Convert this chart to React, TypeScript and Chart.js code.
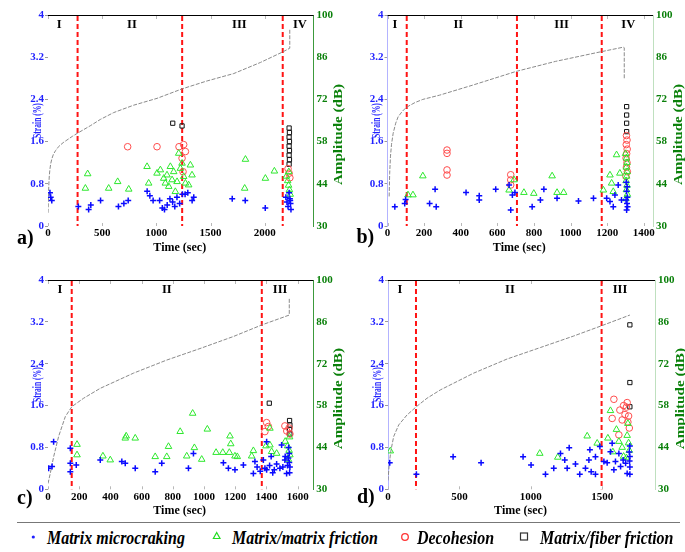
import React, { useEffect, useRef } from 'react';
import { Chart, registerables } from 'chart.js';

Chart.register(...registerables);

type Pt = [number, number];

const FONT = '"Liberation Serif", "Times New Roman", serif';

// ---------- Panel a ----------
const A_TIME = [0, 3, 5, 8, 12, 18, 25, 35, 50, 70, 100, 140, 175, 225, 273, 390, 483, 606, 790, 1006, 1238, 1468, 1714, 1960, 2166, 2231, 2231];
const A_STRAIN = [0.25, 0.45, 0.62, 0.8, 0.95, 1.08, 1.18, 1.27, 1.36, 1.43, 1.51, 1.58, 1.63, 1.7, 1.76, 1.9, 2.02, 2.15, 2.29, 2.42, 2.6, 2.75, 2.89, 3.1, 3.3, 3.37, 3.72];
const A_MICRO: Pt[] = [[18, 41.0], [25, 39.5], [35, 38.5], [280, 36.5], [375, 35.5], [395, 37.0], [485, 38.5], [650, 36.5], [700, 37.5], [740, 38.5], [915, 41.5], [940, 40.0], [970, 38.5], [1030, 38.5], [1055, 36.0], [1075, 35.5], [1100, 37.0], [1125, 39.0], [1150, 38.0], [1170, 36.5], [1190, 39.5], [1215, 37.5], [1240, 40.5], [1265, 40.5], [1290, 41.0], [1330, 38.5], [1345, 39.5], [1700, 39.0], [1820, 38.5], [2005, 36.0], [2195, 39.5], [2205, 38.0], [2215, 36.5], [2225, 41.0], [2232, 39.0], [2238, 37.5], [2242, 35.5], [2235, 38.5]];
const A_MM: Pt[] = [[345, 42.5], [366, 47.3], [560, 42.5], [643, 44.7], [745, 42.2], [914, 49.7], [929, 44.2], [1006, 47.5], [1037, 48.6], [1068, 45.8], [1083, 44.2], [1098, 46.9], [1114, 43.1], [1129, 49.7], [1145, 45.3], [1160, 48.0], [1175, 41.4], [1191, 44.7], [1206, 54.1], [1222, 49.1], [1237, 50.8], [1252, 46.4], [1268, 44.2], [1298, 43.6], [1314, 50.2], [1329, 46.9], [1815, 42.5], [1822, 52.1], [2006, 45.8], [2089, 48.2], [2200, 46.5], [2212, 45.0], [2220, 43.5], [2228, 42.0], [2235, 40.5], [2222, 48.0]];
const A_DEC: Pt[] = [[735, 56.3], [1006, 56.3], [1209, 56.3], [1252, 57.0], [1237, 52.5], [1246, 48.0], [1268, 54.7], [2215, 49.0], [2225, 47.5], [2232, 46.0]];
const A_MF: Pt[] = [[1151, 64.1], [1237, 63.2], [2225, 62.5], [2228, 61.0], [2225, 59.5], [2228, 58.0], [2225, 56.5], [2228, 55.0], [2225, 53.5], [2228, 52.0], [2225, 50.5]];
const A_STAGES = [273, 1238, 2166];
const A_ROMAN_T = [104, 774, 1766, 2325];
const A_XTICKS = [0, 500, 1000, 1500, 2000];

// ---------- Panel b ----------
const B_TIME = [9, 12, 16, 22, 31, 45, 58, 80, 103, 150, 193, 284, 465, 702, 917, 1161, 1288, 1293, 1293];
const B_STRAIN = [0.56, 1.0, 1.31, 1.55, 1.76, 1.95, 2.07, 2.17, 2.25, 2.34, 2.4, 2.48, 2.67, 2.93, 3.12, 3.3, 3.39, 3.38, 2.8];
const B_MICRO: Pt[] = [[40, 36.4], [94, 37.5], [99, 38.8], [230, 37.5], [266, 36.4], [260, 42.2], [429, 41.1], [501, 40.0], [501, 38.6], [591, 42.2], [664, 43.6], [673, 35.3], [682, 40.3], [696, 41.1], [790, 36.4], [835, 38.6], [854, 42.2], [926, 39.2], [1043, 38.3], [1125, 39.2], [1197, 39.2], [1215, 38.1], [1233, 36.4], [1242, 40.3], [1260, 43.6], [1278, 38.6], [1306, 35.3], [1308, 37.5], [1310, 39.5], [1306, 41.5], [1309, 43.0], [1304, 44.5], [1311, 36.4], [1303, 38.6]];
const B_MM: Pt[] = [[112, 40.3], [139, 40.3], [193, 46.6], [664, 41.9], [691, 45.3], [745, 41.1], [799, 40.8], [899, 46.6], [926, 41.1], [962, 41.1], [1179, 41.9], [1215, 46.9], [1224, 44.2], [1233, 41.4], [1251, 53.6], [1269, 47.5], [1300, 54.0], [1305, 52.5], [1308, 51.0], [1304, 49.5], [1309, 48.0], [1306, 46.5], [1303, 45.0], [1308, 43.5], [1305, 42.0], [1310, 40.5], [1302, 39.0]];
const B_DEC: Pt[] = [[325, 55.2], [325, 54.1], [325, 48.6], [325, 46.9], [673, 47.0], [673, 45.3], [673, 43.6], [1305, 60.0], [1308, 58.5], [1304, 57.0], [1309, 55.5], [1306, 54.0], [1303, 52.5], [1308, 51.0], [1305, 49.5], [1310, 48.0], [1302, 46.5]];
const B_MF: Pt[] = [[1306, 69.6], [1306, 66.8], [1306, 64.1], [1306, 61.3]];
const B_STAGES = [105, 707, 1170];
const B_ROMAN_T = [41, 387, 951, 1315];
const B_XTICKS = [0, 200, 400, 600, 800, 1000, 1200, 1400];

// ---------- Panel c ----------
const C_TIME = [0, 15, 36, 68, 111, 153, 228, 335, 548, 761, 974, 1188, 1369, 1546, 1546];
const C_STRAIN = [0.11, 0.31, 0.62, 1.01, 1.39, 1.58, 1.74, 1.93, 2.22, 2.47, 2.69, 2.92, 3.14, 3.33, 3.65];
const C_MICRO: Pt[] = [[4, 37.0], [26, 37.6], [36, 45.9], [143, 38.7], [143, 35.9], [143, 43.7], [181, 38.1], [335, 39.8], [473, 39.3], [495, 38.7], [559, 37.0], [687, 35.9], [729, 38.7], [900, 37.0], [932, 42.0], [1124, 38.9], [1156, 37.0], [1198, 36.5], [1252, 38.1], [1316, 35.3], [1326, 39.3], [1340, 37.5], [1360, 36.0], [1380, 39.8], [1390, 37.0], [1401, 45.9], [1401, 36.5], [1420, 38.0], [1430, 41.0], [1440, 35.5], [1450, 36.5], [1465, 38.5], [1486, 37.0], [1497, 44.8], [1505, 37.5], [1518, 39.8], [1520, 41.0], [1529, 35.3], [1535, 38.0], [1546, 42.0], [1546, 39.0], [1548, 35.5], [1542, 44.0], [1550, 37.5], [1540, 40.5]];
const C_MM: Pt[] = [[186, 45.0], [186, 41.5], [352, 41.1], [399, 39.8], [495, 47.1], [501, 47.8], [559, 47.1], [687, 40.9], [761, 40.9], [772, 44.3], [847, 49.3], [889, 41.1], [927, 55.4], [938, 43.9], [985, 40.0], [1021, 50.1], [1077, 42.3], [1120, 42.3], [1166, 47.8], [1171, 45.2], [1162, 42.3], [1198, 41.1], [1213, 40.9], [1305, 41.1], [1316, 42.9], [1397, 44.5], [1422, 50.4], [1422, 44.8], [1433, 42.6], [1465, 42.0], [1520, 46.0], [1535, 44.5], [1545, 43.0], [1550, 41.5], [1540, 40.0], [1548, 47.5]];
const C_DEC: Pt[] = [[1401, 52.3], [1390, 49.3], [1412, 51.0], [1518, 51.2], [1530, 49.5], [1545, 50.5], [1550, 48.5]];
const C_MF: Pt[] = [[1418, 58.8], [1548, 53.0], [1550, 51.5], [1548, 50.0], [1550, 48.5]];
const C_STAGES = [152, 1370];
const C_ROMAN_T = [77, 761, 1487];
const C_XTICKS = [0, 200, 400, 600, 800, 1000, 1200, 1400, 1600];

// ---------- Panel d ----------
const D_TIME = [0, 9, 21, 40, 75, 133, 199, 273, 367, 600, 834, 1068, 1301, 1500, 1694];
const D_STRAIN = [0.17, 0.5, 0.75, 1.01, 1.23, 1.42, 1.58, 1.74, 1.9, 2.22, 2.49, 2.71, 2.93, 3.13, 3.33];
const D_MICRO: Pt[] = [[12, 38.9], [199, 35.0], [456, 40.9], [652, 38.9], [946, 40.9], [1002, 38.1], [1103, 35.0], [1161, 37.0], [1208, 42.0], [1238, 39.8], [1255, 37.0], [1269, 43.9], [1313, 38.5], [1343, 35.0], [1383, 37.0], [1407, 39.8], [1414, 43.2], [1423, 35.9], [1453, 35.0], [1453, 40.9], [1484, 44.3], [1512, 39.3], [1535, 38.9], [1558, 42.6], [1570, 45.4], [1582, 36.5], [1593, 39.3], [1617, 42.0], [1629, 37.6], [1647, 39.8], [1664, 38.7], [1675, 35.3], [1694, 44.5], [1694, 41.0], [1694, 37.5], [1694, 35.0], [1690, 42.5], [1692, 39.5]];
const D_MM: Pt[] = [[16, 42.8], [1063, 42.0], [1189, 40.7], [1395, 47.8], [1465, 45.4], [1540, 47.1], [1558, 56.3], [1575, 42.5], [1600, 50.0], [1617, 46.0], [1640, 44.0], [1650, 41.0], [1675, 48.0], [1685, 45.5], [1690, 43.0], [1680, 52.0], [1670, 40.5]];
const D_DEC: Pt[] = [[1582, 60.1], [1570, 53.7], [1624, 56.5], [1640, 53.2], [1617, 48.2], [1650, 58.0], [1660, 55.0], [1670, 57.5], [1680, 52.5], [1690, 50.5], [1685, 54.5], [1675, 59.0]];
const D_MF: Pt[] = [[1694, 85.0], [1694, 65.7], [1694, 57.6]];
const D_STAGES = [196, 1496];
const D_ROMAN_T = [84, 854, 1625];
const D_XTICKS = [0, 500, 1000, 1500];

const ROMAN4 = ['I', 'II', 'III', 'IV'];
const ROMAN3 = ['I', 'II', 'III'];

const STRAIN_TICKS = [0, 0.8, 1.6, 2.4, 3.2, 4];
const AMP_TICKS = [30, 44, 58, 72, 86, 100];

const LEGEND_LABELS = ['Matrix microcraking', 'Matrix/matrix friction', 'Decohesion', 'Matrix/fiber friction'];

const PANELS = [
  { key: 'a', label: 'a)', left: 0, top: 0, w: 345, h: 258, area: { l: 48, r: 313.5, t: 15, b: 226 }, xMax: 2450, xTicks: A_XTICKS,
    time: A_TIME, strain: A_STRAIN, micro: A_MICRO, mm: A_MM, dec: A_DEC, mf: A_MF, stages: A_STAGES, romanT: A_ROMAN_T, roman: ROMAN4, pale: false, labelDy: 13 },
  { key: 'b', label: 'b)', left: 340, top: 0, w: 345, h: 258, area: { l: 47.5, r: 313, t: 15, b: 226 }, xMax: 1450, xTicks: B_XTICKS,
    time: B_TIME, strain: B_STRAIN, micro: B_MICRO, mm: B_MM, dec: B_DEC, mf: B_MF, stages: B_STAGES, romanT: B_ROMAN_T, roman: ROMAN4, pale: true, labelDy: 12 },
  { key: 'c', label: 'c)', left: 0, top: 262, w: 345, h: 258, area: { l: 48, r: 313.3, t: 18, b: 227.3 }, xMax: 1700, xTicks: C_XTICKS,
    time: C_TIME, strain: C_STRAIN, micro: C_MICRO, mm: C_MM, dec: C_DEC, mf: C_MF, stages: C_STAGES, romanT: C_ROMAN_T, roman: ROMAN3, pale: false, labelDy: 10 },
  { key: 'd', label: 'd)', left: 340, top: 262, w: 345, h: 258, area: { l: 48, r: 315, t: 18, b: 227.3 }, xMax: 1870, xTicks: D_XTICKS,
    time: D_TIME, strain: D_STRAIN, micro: D_MICRO, mm: D_MM, dec: D_DEC, mf: D_MF, stages: D_STAGES, romanT: D_ROMAN_T, roman: ROMAN3, pale: true, labelDy: 9 },
];

const BLUE = '#1f1fff';
const GREEN_TXT = '#0a800a';

function makeDecor(p: any) {
  return {
    id: 'decor_' + p.key,
    beforeDatasetsDraw(chart: any) {
      const { ctx, chartArea: a } = chart;
      const xs = chart.scales.x;
      ctx.save();
      ctx.lineWidth = 1;
      ctx.strokeStyle = '#000';
      ctx.beginPath();
      ctx.moveTo(a.left, a.top + 0.5);
      ctx.lineTo(a.right, a.top + 0.5);
      ctx.stroke();
      ctx.strokeStyle = '#b8b8b8';
      ctx.beginPath();
      xs.ticks.forEach((t: any) => {
        const px = Math.round(xs.getPixelForValue(t.value)) + 0.5;
        ctx.moveTo(px, a.top + 1);
        ctx.lineTo(px, a.top + 4);
        ctx.moveTo(px, a.bottom);
        ctx.lineTo(px, a.bottom - 3);
      });
      ctx.stroke();
      ctx.strokeStyle = '#ff1414';
      ctx.lineWidth = 2;
      ctx.setLineDash([5, 3]);
      p.stages.forEach((s: number) => {
        const px = xs.getPixelForValue(s);
        ctx.beginPath();
        ctx.moveTo(px, a.top + 1);
        ctx.lineTo(px, a.bottom);
        ctx.stroke();
      });
      ctx.restore();
    },
    afterDraw(chart: any) {
      const { ctx, chartArea: a } = chart;
      const xs = chart.scales.x;
      const midY = (a.top + a.bottom) / 2;
      ctx.save();
      // roman numerals
      ctx.fillStyle = '#000';
      ctx.font = `bold 12.5px ${FONT}`;
      ctx.textAlign = 'center';
      ctx.textBaseline = 'middle';
      p.romanT.forEach((t: number, i: number) => {
        ctx.fillText(p.roman[i], xs.getPixelForValue(t), a.top + 10);
      });
      // x title
      ctx.font = `bold 12px ${FONT}`;
      ctx.fillText('Time (sec)', (a.left + a.right) / 2 - 1, a.bottom + 22);
      // strain title
      ctx.save();
      ctx.translate(a.left - 10, midY);
      ctx.rotate(-Math.PI / 2);
      ctx.scale(0.66, 1);
      ctx.fillStyle = BLUE;
      ctx.font = `bold 11.5px ${FONT}`;
      ctx.fillText('Strain (%)', 0, 0);
      ctx.restore();
      // amplitude title
      ctx.save();
      ctx.translate(a.right + 25.5, midY + 14);
      ctx.rotate(-Math.PI / 2);
      ctx.scale(1.12, 1);
      ctx.fillStyle = GREEN_TXT;
      ctx.font = `bold 13.5px ${FONT}`;
      ctx.fillText('Amplitude (dB)', 0, 0);
      ctx.restore();
      // panel label
      ctx.fillStyle = '#000';
      ctx.font = `bold 20px ${FONT}`;
      ctx.textAlign = 'left';
      ctx.fillText(p.label, a.left - 31, a.bottom + p.labelDy);
      ctx.restore();
    },
  };
}

function Panel({ p }: { p: any }) {
  const ref = useRef<HTMLCanvasElement | null>(null);
  useEffect(() => {
    if (!ref.current) return;
    const toPts = (arr: Pt[]) => arr.map(([x, y]) => ({ x, y }));
    const tickFont = { family: FONT, size: 11, weight: 'bold' as const };
    const chart = new Chart(ref.current, {
      type: 'scatter',
      data: {
        datasets: [
          { label: LEGEND_LABELS[0], data: toPts(p.micro), yAxisID: 'y2', pointStyle: 'cross', pointRadius: 3, borderColor: '#0a0aff', backgroundColor: '#0a0aff', borderWidth: 1.5 },
          { label: LEGEND_LABELS[1], data: toPts(p.mm), yAxisID: 'y2', pointStyle: 'triangle', pointRadius: 3.8, borderColor: '#2ee82e', backgroundColor: 'rgba(0,0,0,0)', borderWidth: 1 },
          { label: LEGEND_LABELS[2], data: toPts(p.dec), yAxisID: 'y2', pointStyle: 'circle', pointRadius: 3.3, borderColor: '#ff4d4d', backgroundColor: 'rgba(0,0,0,0)', borderWidth: 1 },
          { label: LEGEND_LABELS[3], data: toPts(p.mf), yAxisID: 'y2', pointStyle: 'rect', pointRadius: 3, borderColor: '#111', backgroundColor: 'rgba(0,0,0,0)', borderWidth: 1 },
          { label: 'Strain', data: p.time.map((t: number, i: number) => ({ x: t, y: p.strain[i] })), yAxisID: 'y', showLine: true, pointRadius: 0, borderColor: '#8a8a8a', borderWidth: 1, borderDash: [4, 1.5], tension: 0 },
        ],
      },
      options: {
        animation: false,
        responsive: false,
        maintainAspectRatio: false,
        events: [],
        layout: { padding: { top: p.area.t, left: 0, right: 0, bottom: 0 } },
        plugins: { legend: { display: false }, tooltip: { enabled: false } },
        scales: {
          x: {
            type: 'linear',
            position: 'bottom',
            min: 0,
            max: p.xMax,
            afterFit: (s: any) => { s.height = p.h - p.area.b; },
            afterBuildTicks: (s: any) => { s.ticks = p.xTicks.map((v: number) => ({ value: v })); },
            ticks: { autoSkip: false, maxRotation: 0, color: '#000', font: tickFont, padding: 1, callback: (v: any) => String(v) },
            grid: { display: false, drawTicks: false, tickLength: 0 },
            border: { display: false },
          },
          y: {
            type: 'linear',
            position: 'left',
            min: STRAIN_TICKS[0],
            max: STRAIN_TICKS[STRAIN_TICKS.length - 1],
            afterFit: (s: any) => { s.width = p.area.l; },
            afterBuildTicks: (s: any) => { s.ticks = STRAIN_TICKS.map((v) => ({ value: v })); },
            ticks: { autoSkip: false, color: BLUE, font: tickFont, padding: 1, callback: (v: any) => String(v) },
            grid: { display: true, drawOnChartArea: false, drawTicks: true, tickLength: 3, color: '#9a9a9a' },
            border: { display: p.pale, color: '#b3b3ff', width: 1 },
          },
          y2: {
            type: 'linear',
            position: 'right',
            min: AMP_TICKS[0],
            max: AMP_TICKS[AMP_TICKS.length - 1],
            afterFit: (s: any) => { s.width = p.w - p.area.r; },
            afterBuildTicks: (s: any) => { s.ticks = AMP_TICKS.map((v) => ({ value: v })); },
            ticks: { autoSkip: false, color: GREEN_TXT, font: tickFont, padding: 3, callback: (v: any) => String(v) },
            grid: { display: true, drawOnChartArea: false, drawTicks: false, tickLength: 0 },
            border: { display: true, color: p.pale ? '#bfe0bf' : '#3c9a3c', width: 1 },
          },
        },
      } as any,
      plugins: [makeDecor(p)],
    });
    return () => chart.destroy();
  }, [p]);
  return (
    <canvas
      ref={ref}
      width={p.w}
      height={p.h}
      style={{ position: 'absolute', left: p.left, top: p.top, width: p.w, height: p.h }}
    />
  );
}

const legendText: React.CSSProperties = {
  position: 'absolute',
  top: 527.5,
  fontFamily: FONT,
  fontStyle: 'italic',
  fontWeight: 'bold',
  fontSize: 19,
  lineHeight: '20px',
  whiteSpace: 'nowrap',
  color: '#000',
  transform: 'scaleX(0.84)',
  transformOrigin: 'left center',
};

function Legend() {
  return (
    <>
      <div style={{ position: 'absolute', left: 17, top: 522, width: 663, height: 1, background: '#777' }} />
      <svg width={685} height={30} style={{ position: 'absolute', left: 0, top: 522 }}>
        <circle cx={33.3} cy={15} r={1.6} fill="#2020ff" />
        <polygon points="216.7,10.5 220,16.5 213.4,16.5" fill="none" stroke="#22dd22" strokeWidth={1.2} />
        <circle cx={405} cy={15} r={3.3} fill="none" stroke="#ff3333" strokeWidth={1.3} />
        <rect x={520.5} y={11} width={7} height={7} fill="none" stroke="#333" strokeWidth={1.2} />
      </svg>
      <span style={{ ...legendText, left: 46.5 }}>{LEGEND_LABELS[0]}</span>
      <span style={{ ...legendText, left: 231.5 }}>{LEGEND_LABELS[1]}</span>
      <span style={{ ...legendText, left: 417 }}>{LEGEND_LABELS[2]}</span>
      <span style={{ ...legendText, left: 540 }}>{LEGEND_LABELS[3]}</span>
    </>
  );
}

export default function App() {
  return (
    <div style={{ position: 'absolute', left: 0, top: 0, width: 685, height: 552, background: '#fff', overflow: 'hidden' }}>
      {PANELS.map((p) => (
        <Panel key={p.key} p={p} />
      ))}
      <Legend />
    </div>
  );
}
